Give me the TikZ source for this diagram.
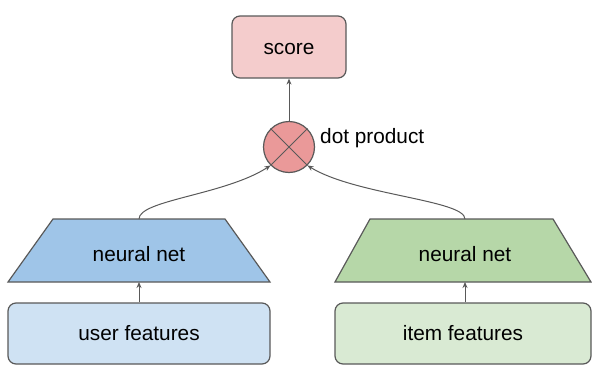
\documentclass[tikz,border=0pt]{standalone}
\usepackage{fontspec}
\setmainfont{Liberation Sans}
\usetikzlibrary{arrows.meta}
\definecolor{bordc}{HTML}{595959}
\definecolor{scorec}{HTML}{F4CCCC}
\definecolor{dotc}{HTML}{EA9999}
\definecolor{bluenn}{HTML}{9FC5E8}
\definecolor{bluebox}{HTML}{CFE2F3}
\definecolor{greennn}{HTML}{B6D7A8}
\definecolor{greenbox}{HTML}{D9EAD3}
\tikzset{
  rbox/.style={draw=bordc, line width=1.2pt, rounded corners=8pt, inner sep=0pt, text height=18pt, text depth=4pt, font=\fontsize{20.8}{25}\selectfont},
  lbl/.style={inner sep=0pt, text height=18pt, text depth=4pt, font=\fontsize{20.8}{25}\selectfont},
  trap/.style={draw=bordc, line width=1.2pt, line join=miter},
  conn/.style={draw=bordc, line width=1pt, -{Stealth[length=6pt,width=5pt]}},
}
\begin{document}
\begin{tikzpicture}[x=1pt,y=-1pt]
\useasboundingbox (0,0) rectangle (592,370);
% score
\node[rbox, fill=scorec, minimum width=114pt, minimum height=62pt] (score) at (289,47) {score};
% dot product
\node[draw=bordc, line width=1.2pt, fill=dotc, circle, minimum size=51pt, inner sep=0pt] (dot) at (289,147) {};
\draw[bordc, line width=1pt] (dot.north west) -- (dot.south east) (dot.north east) -- (dot.south west);
\node[lbl, anchor=west] (dotlbl) at (320,136) {dot product};
% left trapezoid
\coordinate (lt1) at (53,219); \coordinate (lt2) at (225,219);
\coordinate (lt3) at (270,282); \coordinate (lt4) at (8,282);
\fill[bluenn] (lt1) -- (lt2) -- (lt3) -- (lt4) -- cycle;
\draw[trap] (lt1) -- (lt2) -- (lt3) -- (lt4) -- cycle;
\node[lbl] (lnn) at (139,254.5) {neural net};
\coordinate (lnntop) at (139,219);
\coordinate (lnnbot) at (139,282);
% right trapezoid
\coordinate (rt1) at (370,219); \coordinate (rt2) at (553,219);
\coordinate (rt3) at (591,282); \coordinate (rt4) at (335,282);
\fill[greennn] (rt1) -- (rt2) -- (rt3) -- (rt4) -- cycle;
\draw[trap] (rt1) -- (rt2) -- (rt3) -- (rt4) -- cycle;
\node[lbl] (rnn) at (465,254.5) {neural net};
\coordinate (rnntop) at (465,219);
\coordinate (rnnbot) at (465,282);
% feature boxes
\node[rbox, fill=bluebox, minimum width=262pt, minimum height=61pt] (user) at (139,333.5) {user features};
\node[rbox, fill=greenbox, minimum width=256pt, minimum height=61pt] (item) at (463,333.5) {item features};
% connectors
\draw[conn] (dot.north) -- (score.south);
\draw[conn] (user.north -| lnnbot) -- (lnnbot);
\draw[conn] (item.north -| rnnbot) -- (rnnbot);
\draw[conn] (lnntop) .. controls (139,200) and (225,195) .. (dot.-135);
\draw[conn] (rnntop) .. controls (465,200) and (355,195) .. (dot.-45);
\end{tikzpicture}
\end{document}
